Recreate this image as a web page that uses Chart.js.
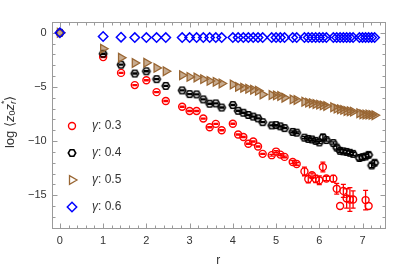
<!DOCTYPE html>
<html>
<head>
<meta charset="utf-8">
<script src="https://cdn.jsdelivr.net/npm/chart.js@4/dist/chart.umd.min.js"></script>
<style>
  html, body { margin: 0; padding: 0; background: #fff; }
  #wrap { width: 407px; height: 271px; }
</style>
</head>
<body>
<div id="wrap"><canvas id="corr" width="407" height="271"></canvas></div>
<script>
// distances r on the lattice
const rValues = [0, 1, 1.414, 1.732, 2, 2.236, 2.449, 2.828, 3, 3.162, 3.317, 3.464, 3.606, 3.742,
  4, 4.123, 4.243, 4.359, 4.472, 4.583, 4.690, 4.899, 5, 5.099, 5.196, 5.385, 5.477,
  5.657, 5.745, 5.831, 5.916, 6, 6.083, 6.164, 6.325, 6.403, 6.481, 6.557, 6.633, 6.708,
  6.782, 6.928, 7, 7.071, 7.141, 7.211, 7.280];

// log <z0 zr*> per gamma
const gamma03 = [0, -2.24, -3.7, -4.83, -4.38, -5.48, -6.3, -6.83, -7.22, -7.22, -7.92, -8.72, -8.41, -9.0,
  -8.4, -9.39, -9.62, -10.25, -10.04, -10.5, -11.18, -11.3, -10.97, -11.25, -11.46, -11.93, -12.11,
  -12.8, -13.5, -13.16, -13.49, -13.62, -12.4, -13.45, -13.47, -14.4, -16.0, -14.6, -15.3, -15.4,
  -15.4, null, null, -15.45, -16.0, null, null];
const gamma03Err = [0, 0.05, 0.05, 0.05, 0.05, 0.05, 0.05, 0.05, 0.05, 0.05, 0.05, 0.05, 0.05, 0.05,
  0.05, 0.05, 0.05, 0.05, 0.05, 0.05, 0.05, 0.08, 0.08, 0.08, 0.08, 0.12, 0.12,
  0.4, 0.35, 0.2, 0.35, 0.4, 0.45, 0.2, 0.3, 0.5, 0, 0.6, 0.9, 1.1,
  0.8, null, null, 0.9, 0, null, null];

const gamma04 = [0, -1.93, -2.94, -3.76, -3.55, -4.28, -4.9, -5.32, -5.66, -5.69, -6.15, -6.55, -6.52, -6.9,
  -6.67, -7.2, -7.38, -7.59, -7.74, -7.9, -8.25, -8.55, -8.52, -8.64, -8.8, -9.15, -9.22,
  -9.68, -9.8, -9.85, -9.98, -10.12, -9.65, -9.9, -10.18, -10.6, -10.9, -10.95, -11.0, -11.08,
  -11.18, -11.56, -11.48, -11.42, -11.27, -12.25, -12.0];
const gamma04Err = [0, 0.05, 0.05, 0.05, 0.05, 0.05, 0.05, 0.05, 0.05, 0.05, 0.05, 0.05, 0.05, 0.05,
  0.05, 0.05, 0.05, 0.05, 0.05, 0.05, 0.05, 0.05, 0.05, 0.05, 0.05, 0.08, 0.08,
  0.1, 0.1, 0.1, 0.1, 0.1, 0.25, 0.1, 0.1, 0.15, 0.15, 0.15, 0.15, 0.15,
  0.15, 0.2, 0.2, 0.2, 0.2, 0.2, 0.2];

const gamma05 = [0, -1.47, -2.3, -2.79, -2.76, -3.24, -3.55, -3.92, -4.07, -4.13, -4.28, -4.44, -4.53, -4.68,
  -4.77, -4.99, -5.08, -5.17, -5.26, -5.35, -5.69, -5.75, -5.78, -5.84, -5.99, -6.15, -6.21,
  -6.36, -6.45, -6.51, -6.57, -6.63, -6.7, -6.76, -6.88, -7.0, -7.06, -7.12, -7.22, -7.25,
  -7.28, -7.43, -7.52, -7.55, -7.55, -7.58, -7.61];

const gamma06 = [0, -0.34, -0.4, -0.44, -0.44, -0.44, -0.44, -0.44, -0.44, -0.44, -0.44, -0.44, -0.44, -0.44,
  -0.44, -0.44, -0.44, -0.44, -0.44, -0.44, -0.44, -0.44, -0.44, -0.44, -0.44, -0.44, -0.44,
  -0.44, -0.44, -0.44, -0.44, -0.44, -0.44, -0.44, -0.44, -0.44, -0.44, -0.44, -0.44, -0.44,
  -0.44, -0.44, -0.44, -0.44, -0.44, -0.44, -0.44];

const seriesNames = ['0.3', '0.4', '0.5', '0.6'];
const xTicks = [0, 1, 2, 3, 4, 5, 6, 7];
const yTicks = [0, -5, -10, -15];

const FONT = '"Liberation Sans", Arial, sans-serif';
const RED = 'rgb(255,0,0)';
const BLACK = 'rgb(0,0,0)';
const BROWN = 'rgb(153,102,51)';
const BLUE = 'rgb(0,0,255)';

function hexagon(color) {
  const size = 12;
  const c = document.createElement('canvas');
  c.width = size; c.height = size;
  const g = c.getContext('2d');
  g.strokeStyle = color;
  g.lineWidth = 1.6;
  g.beginPath();
  for (let i = 0; i < 6; i++) {
    const a = Math.PI / 3 * i;
    const px = size / 2 + 3.7 * Math.cos(a);
    const py = size / 2 + 3.7 * Math.sin(a);
    if (i === 0) g.moveTo(px, py); else g.lineTo(px, py);
  }
  g.closePath();
  g.stroke();
  return c;
}

function toPoints(ys, errs) {
  const pts = [];
  rValues.forEach((r, i) => {
    if (ys[i] === null) return;
    pts.push({ x: r, y: ys[i], err: errs ? errs[i] : 0 });
  });
  return pts;
}

const hexMark = hexagon(BLACK);

const datasets = [
  {
    label: seriesNames[0], data: toPoints(gamma03, gamma03Err), order: 4,
    pointStyle: 'circle', pointRadius: 3.5, borderColor: RED, backgroundColor: 'rgba(0,0,0,0)',
    borderWidth: 1.4, errColor: RED
  },
  {
    label: seriesNames[1], data: toPoints(gamma04, gamma04Err), order: 3,
    pointStyle: hexMark, pointRadius: 4, borderColor: BLACK, backgroundColor: 'rgba(0,0,0,0)',
    borderWidth: 1.3, errColor: BLACK
  },
  {
    label: seriesNames[2], data: toPoints(gamma05), order: 2,
    pointStyle: 'triangle', rotation: 90, pointRadius: 5, borderColor: BROWN,
    backgroundColor: 'rgba(153,102,51,0.55)', borderWidth: 1.3
  },
  {
    label: seriesNames[3], data: toPoints(gamma06), order: 1,
    pointStyle: 'rectRot', pointRadius: 4.7, borderColor: BLUE, backgroundColor: 'rgba(0,0,0,0)',
    borderWidth: 1.5
  }
];

// error bars with small caps, drawn with each series
const errorBars = {
  id: 'errorBars',
  afterDatasetDraw(chart, args) {
    const ds = chart.data.datasets[args.index];
    if (!ds.errColor) return;
    const ctx = chart.ctx;
    const ys = chart.scales.y;
    ctx.save();
    ctx.strokeStyle = ds.errColor;
    ctx.lineWidth = 1.3;
    args.meta.data.forEach((el, i) => {
      const p = ds.data[i];
      if (!p.err) return;
      const y1 = ys.getPixelForValue(p.y + p.err);
      const y2 = ys.getPixelForValue(p.y - p.err);
      ctx.beginPath();
      ctx.moveTo(el.x, y1); ctx.lineTo(el.x, y2);
      ctx.moveTo(el.x - 2.5, y1); ctx.lineTo(el.x + 2.5, y1);
      ctx.moveTo(el.x - 2.5, y2); ctx.lineTo(el.x + 2.5, y2);
      ctx.stroke();
    });
    ctx.restore();
  }
};

// Mathematica style frame with inward ticks on all four sides
const frame = {
  id: 'frame',
  beforeDatasetsDraw(chart) {
    const { ctx, chartArea: a, scales } = chart;
    const L = Math.round(a.left) + 0.5, R = Math.round(a.right) + 0.5;
    const T = Math.round(a.top) + 0.5, B = Math.round(a.bottom) + 0.5;
    ctx.save();
    ctx.strokeStyle = '#9a9a9a';
    ctx.lineWidth = 1;
    ctx.strokeRect(L, T, R - L, B - T);
    ctx.beginPath();
    for (let v = -0.2; v <= 7.6; v += 0.2) {
      const val = Math.round(v * 10) / 10;
      if (val < scales.x.min || val > scales.x.max) continue;
      const len = Number.isInteger(val) ? 5 : 3;
      const px = Math.round(scales.x.getPixelForValue(val)) + 0.5;
      ctx.moveTo(px, B); ctx.lineTo(px, B - len);
      ctx.moveTo(px, T); ctx.lineTo(px, T + len);
    }
    for (let v = -18; v <= 1; v += 1) {
      const len = v % 5 === 0 ? 5 : 3;
      const py = Math.round(scales.y.getPixelForValue(v)) + 0.5;
      ctx.moveTo(L, py); ctx.lineTo(L + len, py);
      ctx.moveTo(R, py); ctx.lineTo(R - len, py);
    }
    ctx.stroke();
    ctx.restore();
  }
};

// axis titles and the in-plot legend
const overlay = {
  id: 'overlay',
  afterDraw(chart) {
    const ctx = chart.ctx;
    const a = chart.chartArea;
    ctx.save();
    ctx.fillStyle = '#333';
    ctx.textBaseline = 'middle';

    // x title
    ctx.font = '12px ' + FONT;
    ctx.textAlign = 'center';
    ctx.fillText('r', (a.left + a.right) / 2, 261);

    // y title: log <z0 zr*>
    ctx.translate(10, (a.top + a.bottom) / 2 - 3);
    ctx.rotate(-Math.PI / 2);
    ctx.textAlign = 'left';
    const big = '13px ' + FONT, bigI = 'italic 13px ' + FONT;
    const small = '9px ' + FONT, smallI = 'italic 9px ' + FONT;
    const parts = [
      { t: 'log \u27E8', f: big, dy: 0 },
      { t: 'z', f: bigI, dy: 0 },
      { t: '0', f: small, dy: 3 },
      { t: 'z', f: bigI, dy: 0 },
      { t: 'r', f: smallI, dy: 3, stack: true },
      { t: '*', f: small, dy: -5 },
      { t: '\u27E9', f: big, dy: 0 }
    ];
    let total = 0;
    const widths = parts.map(p => { ctx.font = p.f; return ctx.measureText(p.t).width; });
    parts.forEach((p, i) => { if (!p.stack) total += widths[i]; });
    let x = -total / 2;
    parts.forEach((p, i) => {
      ctx.font = p.f;
      ctx.fillText(p.t, x, p.dy);
      if (!p.stack) x += widths[i];
    });
    ctx.restore();

    // legend
    ctx.save();
    const rows = [126, 153, 180, 207];
    chart.data.datasets.forEach((ds, i) => {
      const y = rows[i];
      ctx.strokeStyle = ds.borderColor;
      ctx.fillStyle = 'rgba(0,0,0,0)';
      ctx.lineWidth = ds.borderWidth;
      Chart.helpers.drawPoint(ctx, {
        pointStyle: ds.pointStyle, radius: ds.pointRadius, rotation: ds.rotation || 0,
        borderWidth: ds.borderWidth
      }, 72, y);
      ctx.fillStyle = '#333';
      ctx.textBaseline = 'middle';
      ctx.textAlign = 'left';
      ctx.font = 'italic 12px ' + FONT;
      ctx.fillText('\u03B3', 92, y);
      const gw = ctx.measureText('\u03B3').width;
      ctx.font = '12px ' + FONT;
      ctx.fillText(': ' + ds.label, 92 + gw, y);
    });
    ctx.restore();
  }
};

const minus = v => (v < 0 ? '\u2212' + Math.abs(v) : String(v));

new Chart(document.getElementById('corr'), {
  type: 'scatter',
  data: { datasets },
  options: {
    responsive: false,
    animation: false,
    events: [],
    layout: { padding: { top: 22, right: 22, left: 0, bottom: 0 } },
    plugins: { legend: { display: false }, tooltip: { enabled: false } },
    scales: {
      x: {
        type: 'linear', min: -0.19, max: 7.52,
        grid: { display: false, drawTicks: false },
        border: { display: false },
        afterBuildTicks: s => { s.ticks = xTicks.map(v => ({ value: v })); },
        afterFit: s => { s.height = 43.3; },
        ticks: { font: { family: FONT, size: 11 }, color: '#333', padding: 7, maxRotation: 0, autoSkip: false }
      },
      y: {
        type: 'linear', min: -18, max: 1,
        grid: { display: false, drawTicks: false },
        border: { display: false },
        afterBuildTicks: s => { s.ticks = yTicks.map(v => ({ value: v })); },
        afterFit: s => { s.width = 51.7; },
        ticks: { font: { family: FONT, size: 11 }, color: '#333', padding: 5, callback: minus }
      }
    }
  },
  plugins: [frame, errorBars, overlay]
});
</script>
</body>
</html>
